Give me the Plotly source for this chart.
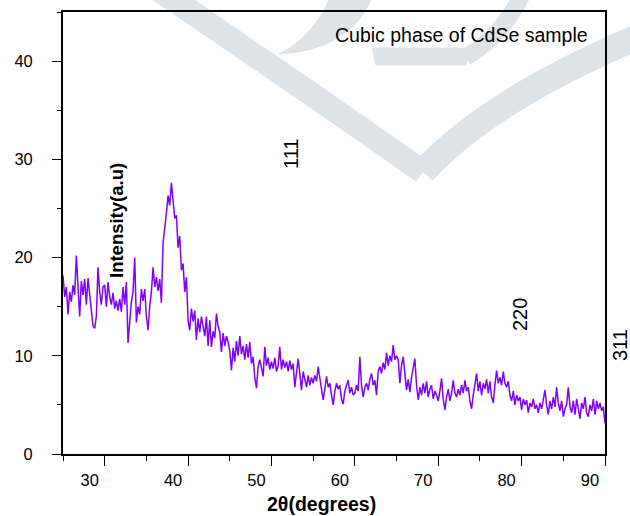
import plotly.graph_objects as go

# ---------------- data ----------------
two_theta_start = 25.0
two_theta_step = 0.2

intensity_25_30 = [18.2, 16.0, 17.0, 14.2, 16.5, 15.5, 17.2, 16.2, 20.2, 16.8,
                   14.0, 17.6, 16.2, 17.8, 15.2, 17.9, 16.3, 14.5, 13.0, 12.8,
                   14.0, 19.0, 16.5, 15.2, 17.0]
intensity_30_35 = [17.2, 15.0, 17.5, 16.0, 15.2, 16.4, 14.8, 15.6, 14.6, 15.8,
                   14.5, 17.0, 15.2, 17.5, 11.3, 13.5, 15.5, 16.5, 20.0, 13.4,
                   15.0, 14.2, 16.8, 15.6, 16.8]
intensity_35_40 = [14.0, 12.6, 15.0, 16.5, 19.0, 17.0, 18.0, 16.6, 17.8, 15.4,
                   21.5, 22.8, 24.5, 26.3, 25.3, 27.6, 25.6, 24.0, 24.3, 21.0,
                   22.2, 18.7, 19.4, 16.5, 18.0]
intensity_40_45 = [13.6, 12.6, 14.8, 13.5, 14.6, 11.6, 13.8, 12.4, 14.0, 13.0,
                   12.0, 14.0, 11.0, 13.6, 10.9, 12.5, 11.8, 14.3, 13.0, 12.4,
                   10.4, 12.3, 11.0, 12.0, 11.4]
intensity_45_50 = [10.5, 8.5, 10.8, 9.4, 11.5, 10.0, 12.0, 10.2, 11.0, 9.6,
                   11.2, 9.8, 11.4, 9.2, 9.9, 7.8, 6.7, 8.9, 9.6, 8.6,
                   7.9, 10.9, 9.0, 9.8, 8.6]
intensity_50_55 = [9.4, 8.7, 9.8, 8.4, 9.0, 10.9, 8.6, 9.6, 8.8, 9.4,
                   8.4, 9.5, 8.6, 9.2, 6.8, 8.6, 9.7, 8.2, 6.5, 8.4,
                   7.6, 6.8, 8.0, 7.0, 7.8]
intensity_55_60 = [7.2, 8.0, 7.4, 8.9, 7.6, 6.8, 5.5, 6.6, 7.9, 6.8,
                   7.2, 6.0, 5.0, 6.4, 7.2, 6.6, 7.0, 5.6, 5.1, 6.4,
                   7.0, 7.5, 6.2, 6.8, 6.0]
intensity_60_65 = [6.2, 7.0, 6.4, 9.9, 7.0, 5.8, 6.8, 7.2, 6.5, 7.6,
                   8.2, 7.0, 7.5, 6.0, 8.4, 8.9, 8.2, 9.3, 8.6, 10.3,
                   9.0, 10.0, 9.4, 11.1, 9.6]
intensity_65_70 = [10.0, 9.6, 7.2, 9.0, 9.9, 8.0, 6.5, 7.6, 6.3, 7.8,
                   8.6, 9.7, 7.0, 5.5, 6.8, 6.0, 7.2, 6.2, 7.4, 5.8,
                   6.6, 7.0, 5.6, 6.4, 6.0]
intensity_70_75 = [5.4, 6.4, 7.7, 5.6, 4.5, 5.8, 6.6, 5.4, 6.2, 7.5,
                   6.2, 5.8, 6.6, 6.0, 7.0, 6.2, 7.5, 6.4, 6.8, 5.4,
                   4.6, 6.0, 7.0, 8.2, 6.4]
intensity_75_80 = [7.4, 6.0, 7.2, 6.6, 7.6, 6.2, 7.4, 5.8, 5.2, 7.0,
                   8.5, 7.2, 7.8, 7.0, 8.4, 7.2, 6.8, 7.4, 6.0, 5.4,
                   6.4, 5.0, 6.0, 5.4, 5.8]
intensity_80_85 = [4.5, 5.6, 5.0, 5.5, 4.2, 5.2, 4.8, 5.6, 4.6, 5.0,
                   4.2, 5.2, 4.6, 5.4, 6.5, 5.0, 4.0, 5.4, 4.6, 5.8,
                   4.8, 6.8, 5.2, 4.4, 5.4]
intensity_85_90 = [3.8, 4.6, 5.0, 6.8, 4.8, 4.2, 5.4, 4.0, 5.6, 4.4,
                   3.6, 5.2, 4.6, 5.8, 4.2, 3.8, 5.0, 4.4, 5.6, 4.0,
                   5.4, 4.6, 5.2, 4.4, 4.8, 3.1]

x_tick_vals = [30, 40, 50, 60, 70, 80, 90]
y_tick_vals = [0, 10, 20, 30, 40]

intensity = (intensity_25_30 + intensity_30_35 + intensity_35_40 + intensity_40_45 +
             intensity_45_50 + intensity_50_55 + intensity_55_60 + intensity_60_65 +
             intensity_65_70 + intensity_70_75 + intensity_75_80 + intensity_80_85 +
             intensity_85_90)
two_theta = [round(two_theta_start + i * two_theta_step, 2) for i in range(len(intensity))]

# ---------------- layout geometry ----------------
W, H = 630, 516
ML, MR, MT, MB = 63, 25, 12, 62
PW, PH = W - ML - MR, H - MT - MB
FONT = "Arial, Liberation Sans, sans-serif"


def px(xp):
    return (xp - ML) / PW


def py(yp):
    return (H - MB - yp) / PH


def path(cmds):
    out = []
    for c in cmds:
        if isinstance(c, str):
            out.append(c)
        else:
            out.append(f"{px(c[0]):.4f},{py(c[1]):.4f}")
    return " ".join(out)


fig = go.Figure()
fig.add_trace(go.Scatter(
    x=two_theta, y=intensity, mode="lines",
    line=dict(color="#8000ff", width=1.5),
    showlegend=False, hoverinfo="skip",
))

# ---------------- background watermark (decoration) ----------------
wm = "#dde4e9"
shapes = [
    dict(type="path", xref="paper", yref="paper", layer="below",
         path=path(["M", (156, -12), "Q", (318, 98), (423, 172)]),
         line=dict(color=wm, width=24)),
    dict(type="path", xref="paper", yref="paper", layer="below",
         path=path(["M", (423, 172), "Q", (488, 100), (645, 34)]),
         line=dict(color=wm, width=26)),
    dict(type="path", xref="paper", yref="paper", layer="below",
         path=path(["M", (279, 54), "Q", (312, 38), (330, -2), "L", (372, -2),
                    "Q", (350, 50), (279, 54), "Z"]),
         fillcolor=wm, line=dict(color=wm, width=1)),
    dict(type="path", xref="paper", yref="paper", layer="below",
         path=path(["M", (372, 48), "L", (470, 48), "L", (466, 65), "L", (376, 65), "Z"]),
         fillcolor=wm, line=dict(color=wm, width=1)),
    dict(type="path", xref="paper", yref="paper", layer="below",
         path=path(["M", (466, 57), "Q", (500, 38), (522, -5)]),
         line=dict(color=wm, width=17)),
]

# ---------------- text ----------------
def ann(text, xp, yp, size, bold=False, angle=0):
    return dict(text=f"<b>{text}</b>" if bold else text,
                x=px(xp), y=py(yp), xref="paper", yref="paper",
                xanchor="center", yanchor="middle", showarrow=False,
                textangle=angle, font=dict(family=FONT, size=size, color="black"))


annotations = [
    ann("Cubic phase of CdSe sample", 461.5, 35, 19.5),
    ann("Intensity(a.u)", 116, 221, 18.5, bold=True, angle=-90),
    ann("2θ(degrees)", 321, 504, 19.5, bold=True),
    ann("111", 291, 154, 20, angle=-90),
    ann("220", 520, 315, 20, angle=-90),
    ann("311", 620, 345, 20, angle=-90),
]

fig.update_layout(
    width=W, height=H,
    margin=dict(l=ML, r=MR, t=MT, b=MB, pad=0, autoexpand=False),
    paper_bgcolor="white", plot_bgcolor="white",
    font=dict(family=FONT, size=16.5, color="black"),
    shapes=shapes, annotations=annotations,
    xaxis=dict(
        range=[25, 90], tickvals=x_tick_vals, ticks="outside", ticklen=10,
        tickwidth=1.3, tickcolor="black", showline=True, linecolor="black",
        linewidth=1.6, mirror=True, showgrid=False, zeroline=False,
        automargin=False, ticklabelshift=-15,
        tickfont=dict(family=FONT, size=16.5, color="black"),
        minor=dict(dtick=5, tick0=0, ticks="outside", ticklen=5, tickwidth=1.2,
                   tickcolor="black", showgrid=False),
    ),
    yaxis=dict(
        range=[0, 45], tickvals=y_tick_vals, ticks="outside", ticklen=9,
        tickwidth=1.3, tickcolor="black", showline=True, linecolor="black",
        linewidth=1.8, mirror=True, showgrid=False, zeroline=False,
        automargin=False, ticklabelstandoff=16,
        tickfont=dict(family=FONT, size=16.5, color="black"),
        minor=dict(dtick=5, tick0=0, ticks="outside", ticklen=4, tickwidth=1.2,
                   tickcolor="black", showgrid=False),
    ),
)

fig.write_html(
    "out.html",
    config={"displayModeBar": False},
    post_script="document.body.style.margin='0';document.body.style.padding='0';"
                "document.documentElement.style.overflow='hidden';",
)
